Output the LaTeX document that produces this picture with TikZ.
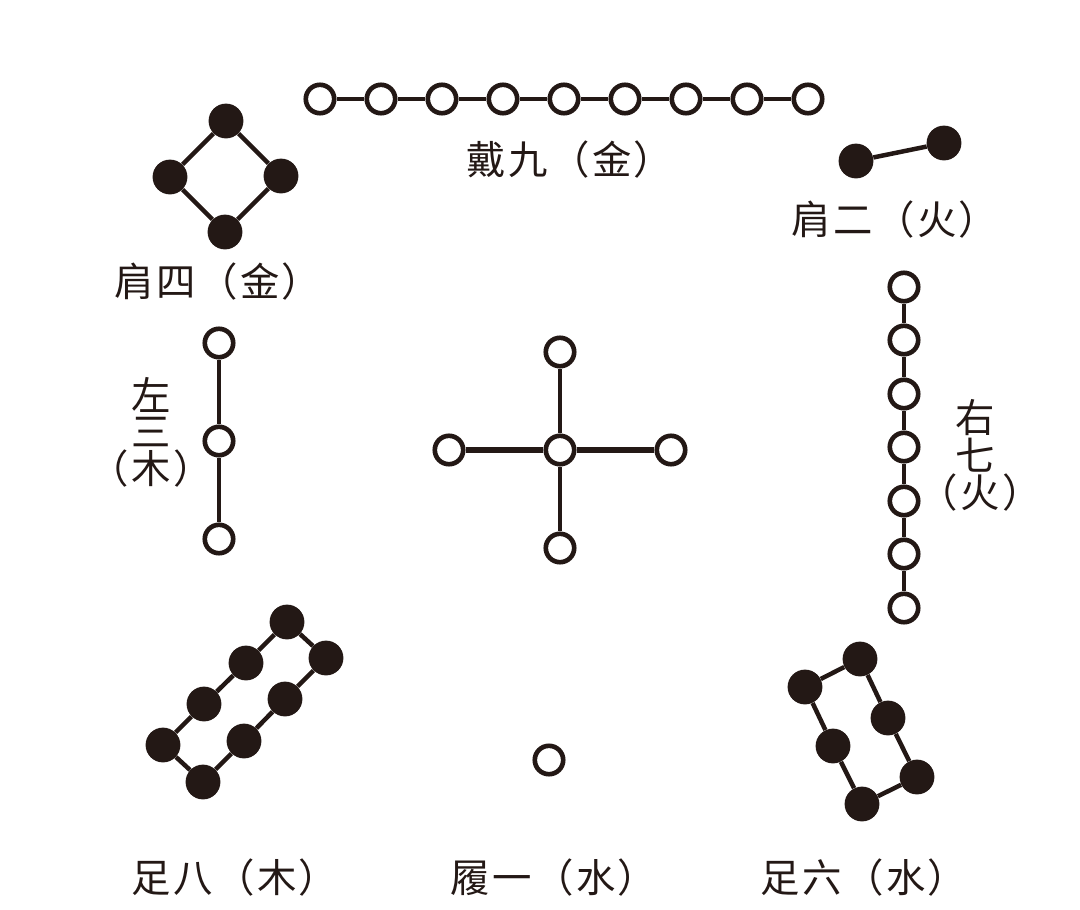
\documentclass[tikz,border=0pt]{standalone}
\usepackage{fontspec}
\newfontfamily\cjk[LetterSpace=6]{Noto Sans CJK SC}
\definecolor{ink}{RGB}{35,24,21}
\tikzset{
    opendot/.style={circle, draw=ink, line width=3.3pt, fill=white, minimum size=0.71cm, inner sep=0pt},
    fulldot/.style={circle, fill=ink, minimum size=0.87cm, inner sep=0pt},
    link/.style={draw=ink, line width=3.2pt},
    caption/.style={text=ink, inner sep=0pt, font=\cjk\fontsize{28}{28}\selectfont}
}

\begin{document}
\begin{tikzpicture}[x=0.025cm, y=-0.025cm]
            \useasboundingbox (0,0) rectangle (1080,909);

            % Dai jiu: nine open dots on top
            \node[opendot] (jiu1) at (320,99) {};
            \node[opendot] (jiu2) at (381,99) {};
            \node[opendot] (jiu3) at (442,99) {};
            \node[opendot] (jiu4) at (503,99) {};
            \node[opendot] (jiu5) at (564,99) {};
            \node[opendot] (jiu6) at (625,99) {};
            \node[opendot] (jiu7) at (686,99) {};
            \node[opendot] (jiu8) at (747,99) {};
            \node[opendot] (jiu9) at (808,99) {};
            \draw[link] (jiu1)--(jiu2) (jiu2)--(jiu3) (jiu3)--(jiu4) (jiu4)--(jiu5) (jiu5)--(jiu6) (jiu6)--(jiu7) (jiu7)--(jiu8) (jiu8)--(jiu9);
            \node[caption] (jiuText) at (570,160) {戴九（金）};

            % Jian si: four solid dots
            \node[fulldot] (si1) at (226,121) {};
            \node[fulldot] (si2) at (170,177) {};
            \node[fulldot] (si3) at (225,232) {};
            \node[fulldot] (si4) at (281,176) {};
            \draw[link] (si1)--(si2) (si2)--(si3) (si3)--(si4) (si4)--(si1);
            \node[caption] (siText) at (218,282) {肩四（金）};

            % Jian er: two solid dots
            \node[fulldot] (er1) at (856,161) {};
            \node[fulldot] (er2) at (944,143) {};
            \draw[link] (er1)--(er2);
            \node[caption] (erText) at (895,220) {肩二（火）};

            % Zuo san: three open dots
            \node[opendot] (san1) at (219,343) {};
            \node[opendot] (san2) at (219,441) {};
            \node[opendot] (san3) at (219,539) {};
            \draw[link] (san1)--(san2) (san2)--(san3);
            \node[caption] (sanTextA) at (151,395) {左};
            \node[caption] (sanTextB) at (151,432) {三};
            \node[caption] (sanTextC) at (151,469) {（木）};

            % center five
            \node[opendot] (wu0) at (560,450) {};
            \node[opendot] (wu1) at (560,352) {};
            \node[opendot] (wu2) at (449,450) {};
            \node[opendot] (wu3) at (671,450) {};
            \node[opendot] (wu4) at (560,548) {};
            \draw[link] (wu0)--(wu1) (wu0)--(wu4);
            \draw[link, line width=4.2pt] (wu0)--(wu2) (wu0)--(wu3);

            % You qi: seven open dots
            \node[opendot] (qi1) at (904,287) {};
            \node[opendot] (qi2) at (904,340) {};
            \node[opendot] (qi3) at (904,394) {};
            \node[opendot] (qi4) at (904,447) {};
            \node[opendot] (qi5) at (904,501) {};
            \node[opendot] (qi6) at (904,554) {};
            \node[opendot] (qi7) at (904,608) {};
            \draw[link] (qi1)--(qi2) (qi2)--(qi3) (qi3)--(qi4) (qi4)--(qi5) (qi5)--(qi6) (qi6)--(qi7);
            \node[caption] (qiTextA) at (975,418) {右};
            \node[caption] (qiTextB) at (975,455) {七};
            \node[caption] (qiTextC) at (980,493) {（火）};

            % Zu ba: eight solid dots
            \node[fulldot] (ba1) at (287,622) {};
            \node[fulldot] (ba2) at (246,663) {};
            \node[fulldot] (ba3) at (204,704) {};
            \node[fulldot] (ba4) at (163,745) {};
            \node[fulldot] (ba5) at (203,782) {};
            \node[fulldot] (ba6) at (244,741) {};
            \node[fulldot] (ba7) at (285,699) {};
            \node[fulldot] (ba8) at (326,658) {};
            \draw[link] (ba1)--(ba2) (ba2)--(ba3) (ba3)--(ba4) (ba4)--(ba5) (ba5)--(ba6) (ba6)--(ba7) (ba7)--(ba8) (ba8)--(ba1);
            \node[caption] (baText) at (235,878) {足八（木）};

            % Lv yi: one open dot
            \node[opendot] (yi1) at (549,760) {};
            \node[caption] (yiText) at (554,878) {履一（水）};

            % Zu liu: six solid dots
            \node[fulldot] (liu1) at (860,659) {};
            \node[fulldot] (liu2) at (805,687) {};
            \node[fulldot] (liu3) at (833,746) {};
            \node[fulldot] (liu4) at (862,804) {};
            \node[fulldot] (liu5) at (917,777) {};
            \node[fulldot] (liu6) at (888,718) {};
            \draw[link] (liu1)--(liu2) (liu2)--(liu3) (liu3)--(liu4) (liu4)--(liu5) (liu5)--(liu6) (liu6)--(liu1);
            \node[caption] (liuText) at (864,878) {足六（水）};
        \end{tikzpicture}
\end{document}
